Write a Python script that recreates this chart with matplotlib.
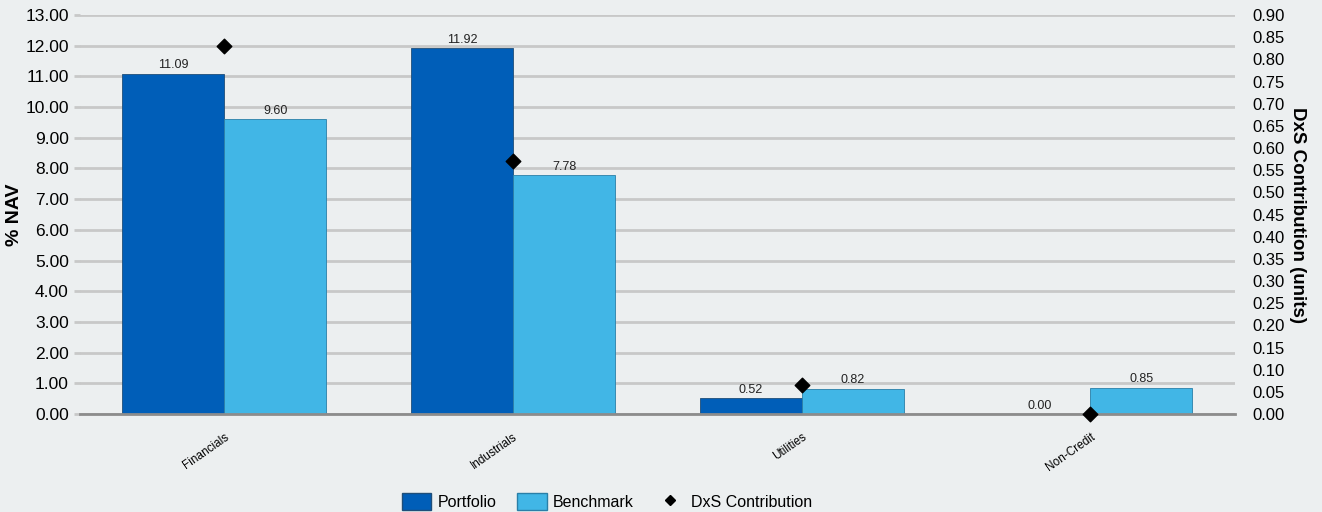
import matplotlib.pyplot as plt
import numpy as np
from matplotlib.patches import Patch
from matplotlib.lines import Line2D

plt.rcParams['font.family'] = ['Liberation Sans', 'DejaVu Sans']

sectors = ['Financials', 'Industrials', 'Utilities', 'Non-Credit']
portfolio = [11.09, 11.92, 0.52, 0.00]
benchmark = [9.60, 7.78, 0.82, 0.85]
dxs = [0.83, 0.57, 0.065, 0.00]

bg = '#ECEFF0'
c_port = '#005EB8'
c_bench = '#41B6E6'

fig = plt.figure(figsize=(13.22, 5.12), dpi=100, facecolor=bg)
ax = fig.add_axes([0.0605, 0.1914, 0.8735, 0.7793])
ax.set_facecolor(bg)

x = np.arange(len(sectors))
w = 0.353
b1 = ax.bar(x - w/2, portfolio, w, color=c_port, edgecolor='#1F4E79', linewidth=0.6, zorder=3)
b2 = ax.bar(x + w/2, benchmark, w, color=c_bench, edgecolor='#2A7FA8', linewidth=0.6, zorder=3)

for bars, vals in [(b1, portfolio), (b2, benchmark)]:
    for r, v in zip(bars, vals):
        ax.text(r.get_x() + r.get_width()/2, v + 0.08, f'{v:.2f}', ha='center', va='bottom',
                fontsize=9, color='#222222', zorder=4)

ax.set_xlim(-0.5, len(sectors) - 0.5)
ax.set_ylim(0, 13)
ax.set_yticks(np.arange(0, 14, 1))
ax.set_yticklabels([f'{v:.2f}' for v in np.arange(0, 14, 1)], fontsize=12.5)
ax.set_xticks(x)
ax.set_xticklabels(sectors, rotation=35, ha='right', rotation_mode='anchor', fontsize=8.5)
ax.tick_params(axis='x', length=0, pad=12)
ax.tick_params(axis='y', length=4, width=2, color='#C8C8C8', pad=4)
ax.grid(axis='y', color='#C8C8C8', linewidth=2, zorder=0)
for s in ['top', 'right', 'left']:
    ax.spines[s].set_visible(False)
ax.spines['bottom'].set_color('#8C8C8C')
ax.spines['bottom'].set_linewidth(2)
ax.spines['bottom'].set_zorder(5)
ax.set_ylabel('% NAV', fontsize=14, fontweight='bold', labelpad=2)

ax2 = ax.twinx()
ax2.set_ylim(0, 0.9)
ax2.set_yticks(np.arange(0, 0.91, 0.05))
ax2.set_yticklabels([f'{v:.2f}' for v in np.arange(0, 0.91, 0.05)], fontsize=12)
ax2.tick_params(axis='y', length=0, pad=13)
for s in ax2.spines.values():
    s.set_visible(False)
ax2.scatter(x, dxs, marker='D', s=55, color='black', zorder=6, clip_on=False)
ax2.set_ylabel('DxS Contribution (units)', fontsize=13.5, fontweight='bold', rotation=270, labelpad=15)

handles = [Patch(facecolor=c_port, edgecolor='#1F4E79', label='Portfolio'),
           Patch(facecolor=c_bench, edgecolor='#2A7FA8', label='Benchmark'),
           Line2D([], [], marker='D', color='black', linestyle='None', markersize=5, label='DxS Contribution')]
fig.legend(handles=handles, loc='lower center', bbox_to_anchor=(0.459, -0.025), ncol=3, frameon=False,
           fontsize=11.5, handlelength=1.85, handleheight=1.3, columnspacing=1.3, handletextpad=0.4)

fig.savefig('out.png', dpi=100, facecolor=bg)
